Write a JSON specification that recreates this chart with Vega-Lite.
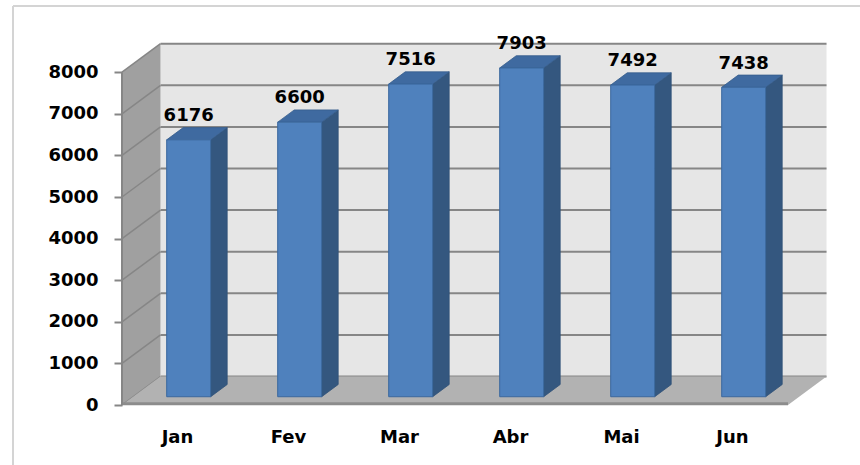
{
  "$schema": "https://vega.github.io/schema/vega-lite/v6.json",
  "width": 860,
  "height": 465,
  "autosize": {"type": "none"},
  "padding": 0,
  "background": "white",
  "config": {
    "view": {"stroke": null},
    "axisY": {
      "title": null, "offset": -122, "domain": false, "grid": false,
      "tickSize": 8, "tickWidth": 2, "tickColor": "#868686",
      "labelFont": "DejaVu Sans", "labelFontWeight": "bold", "labelFontSize": 18,
      "labelColor": "#000000", "labelPadding": 16
    }
  },
  "datasets": {
    "sales": [
      {"m": "Jan", "v": 6176},
      {"m": "Fev", "v": 6600},
      {"m": "Mar", "v": 7516},
      {"m": "Abr", "v": 7903},
      {"m": "Mai", "v": 7492},
      {"m": "Jun", "v": 7438}
    ],
    "ticks": [
      {"k": 0}, {"k": 1000}, {"k": 2000}, {"k": 3000}, {"k": 4000},
      {"k": 5000}, {"k": 6000}, {"k": 7000}, {"k": 8000}
    ],
    "one": [{}]
  },
  "layer": [
    {
      "data": {"name": "one"},
      "transform": [
        {"calculate": "-0.982", "as": "a"},
        {"calculate": "9591", "as": "b"},
        {"calculate": "-1442", "as": "b2"}
      ],
      "mark": {"type": "rule", "stroke": "#d4d4d4", "strokeWidth": 2},
      "encoding": {
        "x": {"field": "a", "type": "quantitative", "scale": {"domain": [-1.0991, 6.6486], "nice": false, "zero": false}, "axis": null},
        "y": {"field": "b", "type": "quantitative", "scale": {"domain": [-1442.3, 9735.6], "nice": false, "zero": false}, "axis": {"title": null, "values": [0, 1000, 2000, 3000, 4000, 5000, 6000, 7000, 8000], "format": "d"}},
        "y2": {"field": "b2"}
      }
    },
    {
      "data": {"name": "one"},
      "transform": [
        {"calculate": "-0.982", "as": "a"},
        {"calculate": "6.6486", "as": "a2"},
        {"calculate": "9591", "as": "b"}
      ],
      "mark": {"type": "rule", "stroke": "#d4d4d4", "strokeWidth": 2},
      "encoding": {
        "x": {"field": "a", "type": "quantitative", "scale": {"domain": [-1.0991, 6.6486], "nice": false, "zero": false}, "axis": null},
        "x2": {"field": "a2"},
        "y": {"field": "b", "type": "quantitative", "scale": {"domain": [-1442.3, 9735.6], "nice": false, "zero": false}, "axis": {"title": null, "values": [0, 1000, 2000, 3000, 4000, 5000, 6000, 7000, 8000], "format": "d"}}
      }
    },
    {
      "data": {"name": "one"},
      "transform": [
        {"calculate": "0.347", "as": "a"},
        {"calculate": "6.347", "as": "a2"},
        {"calculate": "685", "as": "b"},
        {"calculate": "8685", "as": "b2"}
      ],
      "mark": {"type": "rect", "fill": "#e6e6e6"},
      "encoding": {
        "x": {"field": "a", "type": "quantitative", "scale": {"domain": [-1.0991, 6.6486], "nice": false, "zero": false}, "axis": null},
        "x2": {"field": "a2"},
        "y": {"field": "b", "type": "quantitative", "scale": {"domain": [-1442.3, 9735.6], "nice": false, "zero": false}, "axis": {"title": null, "values": [0, 1000, 2000, 3000, 4000, 5000, 6000, 7000, 8000], "format": "d"}},
        "y2": {"field": "b2"}
      }
    },
    {
      "data": {"name": "ticks"},
      "transform": [
        {"calculate": "datum.k + 685", "as": "gy"},
        {"calculate": "0.347", "as": "a"},
        {"calculate": "6.347", "as": "a2"}
      ],
      "mark": {"type": "rule", "stroke": "#868686", "strokeWidth": 2},
      "encoding": {
        "x": {"field": "a", "type": "quantitative", "scale": {"domain": [-1.0991, 6.6486], "nice": false, "zero": false}, "axis": null},
        "x2": {"field": "a2"},
        "y": {"field": "gy", "type": "quantitative", "scale": {"domain": [-1442.3, 9735.6], "nice": false, "zero": false}, "axis": {"title": null, "values": [0, 1000, 2000, 3000, 4000, 5000, 6000, 7000, 8000], "format": "d"}}
      }
    },
    {
      "data": {"name": "one"},
      "transform": [
        {"calculate": "[0, 1]", "as": "t"},
        {"flatten": ["t"]},
        {"calculate": "datum.t * 0.347", "as": "lx"},
        {"calculate": "datum.t * 685", "as": "ly"},
        {"calculate": "8000 + datum.t * 685", "as": "ly2"}
      ],
      "mark": {"type": "area", "orient": "vertical", "fill": "#a0a0a0"},
      "encoding": {
        "x": {"field": "lx", "type": "quantitative", "scale": {"domain": [-1.0991, 6.6486], "nice": false, "zero": false}, "axis": null},
        "y": {"field": "ly", "type": "quantitative", "scale": {"domain": [-1442.3, 9735.6], "nice": false, "zero": false}, "axis": {"title": null, "values": [0, 1000, 2000, 3000, 4000, 5000, 6000, 7000, 8000], "format": "d"}},
        "y2": {"field": "ly2"}
      }
    },
    {
      "data": {"name": "ticks"},
      "transform": [
        {"calculate": "[0, 1]", "as": "t"},
        {"flatten": ["t"]},
        {"calculate": "datum.t * 0.347", "as": "lx"},
        {"calculate": "datum.k + datum.t * 685", "as": "ly"}
      ],
      "mark": {"type": "line", "stroke": "#868686", "strokeWidth": 1.5},
      "encoding": {
        "x": {"field": "lx", "type": "quantitative", "scale": {"domain": [-1.0991, 6.6486], "nice": false, "zero": false}, "axis": null},
        "y": {"field": "ly", "type": "quantitative", "scale": {"domain": [-1442.3, 9735.6], "nice": false, "zero": false}, "axis": {"title": null, "values": [0, 1000, 2000, 3000, 4000, 5000, 6000, 7000, 8000], "format": "d"}},
        "detail": {"field": "k", "type": "nominal"}
      }
    },
    {
      "data": {"name": "one"},
      "transform": [
        {"calculate": "[0, 1]", "as": "t"},
        {"flatten": ["t"]},
        {"calculate": "datum.t * 0.347", "as": "fx"},
        {"calculate": "6 + datum.t * 0.347", "as": "fx2"},
        {"calculate": "datum.t * 685", "as": "fy"}
      ],
      "mark": {"type": "area", "orient": "horizontal", "fill": "#b2b2b2"},
      "encoding": {
        "x": {"field": "fx", "type": "quantitative", "scale": {"domain": [-1.0991, 6.6486], "nice": false, "zero": false}, "axis": null},
        "x2": {"field": "fx2"},
        "y": {"field": "fy", "type": "quantitative", "scale": {"domain": [-1442.3, 9735.6], "nice": false, "zero": false}, "axis": {"title": null, "values": [0, 1000, 2000, 3000, 4000, 5000, 6000, 7000, 8000], "format": "d"}}
      }
    },
    {
      "data": {"name": "one"},
      "transform": [
        {"calculate": "0", "as": "a"},
        {"calculate": "6", "as": "a2"},
        {"calculate": "30", "as": "b"}
      ],
      "mark": {"type": "rule", "stroke": "#8c8c8c", "strokeWidth": 3},
      "encoding": {
        "x": {"field": "a", "type": "quantitative", "scale": {"domain": [-1.0991, 6.6486], "nice": false, "zero": false}, "axis": null},
        "x2": {"field": "a2"},
        "y": {"field": "b", "type": "quantitative", "scale": {"domain": [-1442.3, 9735.6], "nice": false, "zero": false}, "axis": {"title": null, "values": [0, 1000, 2000, 3000, 4000, 5000, 6000, 7000, 8000], "format": "d"}}
      }
    },
    {
      "data": {"name": "one"},
      "transform": [
        {"calculate": "0", "as": "a"},
        {"calculate": "0", "as": "b"},
        {"calculate": "8000", "as": "b2"}
      ],
      "mark": {"type": "rule", "stroke": "#868686", "strokeWidth": 2},
      "encoding": {
        "x": {"field": "a", "type": "quantitative", "scale": {"domain": [-1.0991, 6.6486], "nice": false, "zero": false}, "axis": null},
        "y": {"field": "b", "type": "quantitative", "scale": {"domain": [-1442.3, 9735.6], "nice": false, "zero": false}, "axis": {"title": null, "values": [0, 1000, 2000, 3000, 4000, 5000, 6000, 7000, 8000], "format": "d"}},
        "y2": {"field": "b2"}
      }
    },
    {
      "data": {"name": "sales"},
      "transform": [
        {"window": [{"op": "row_number", "as": "n"}]},
        {"calculate": "datum.n - 0.5", "as": "c"},
        {"calculate": "[0, 1]", "as": "t"},
        {"flatten": ["t"]},
        {"calculate": "datum.c + 0.2986 + datum.t * 0.149", "as": "sx"},
        {"calculate": "198.6 + datum.t * 294.5", "as": "sy"},
        {"calculate": "datum.v + 198.6 + datum.t * 294.5", "as": "sy2"}
      ],
      "mark": {"type": "area", "orient": "vertical", "fill": "#34577f", "stroke": "#2f5077", "strokeWidth": 0.8},
      "encoding": {
        "x": {"field": "sx", "type": "quantitative", "scale": {"domain": [-1.0991, 6.6486], "nice": false, "zero": false}, "axis": null},
        "y": {"field": "sy", "type": "quantitative", "scale": {"domain": [-1442.3, 9735.6], "nice": false, "zero": false}, "axis": {"title": null, "values": [0, 1000, 2000, 3000, 4000, 5000, 6000, 7000, 8000], "format": "d"}},
        "y2": {"field": "sy2"},
        "detail": {"field": "m", "type": "nominal"}
      }
    },
    {
      "data": {"name": "sales"},
      "transform": [
        {"window": [{"op": "row_number", "as": "n"}]},
        {"calculate": "datum.n - 0.5", "as": "c"},
        {"calculate": "[0, 1]", "as": "t"},
        {"flatten": ["t"]},
        {"calculate": "datum.c - 0.0974 + datum.t * 0.149", "as": "tx"},
        {"calculate": "datum.c + 0.2986 + datum.t * 0.149", "as": "tx2"},
        {"calculate": "datum.v + 198.6 + datum.t * 294.5", "as": "ty"}
      ],
      "mark": {"type": "area", "orient": "horizontal", "fill": "#3f6aa0", "stroke": "#365d8c", "strokeWidth": 0.8},
      "encoding": {
        "x": {"field": "tx", "type": "quantitative", "scale": {"domain": [-1.0991, 6.6486], "nice": false, "zero": false}, "axis": null},
        "x2": {"field": "tx2"},
        "y": {"field": "ty", "type": "quantitative", "scale": {"domain": [-1442.3, 9735.6], "nice": false, "zero": false}, "axis": {"title": null, "values": [0, 1000, 2000, 3000, 4000, 5000, 6000, 7000, 8000], "format": "d"}},
        "detail": {"field": "m", "type": "nominal"}
      }
    },
    {
      "data": {"name": "sales"},
      "transform": [
        {"window": [{"op": "row_number", "as": "n"}]},
        {"calculate": "datum.n - 0.5", "as": "c"},
        {"calculate": "datum.c + 0.1006 - 0.198", "as": "bx"},
        {"calculate": "datum.c + 0.1006 + 0.198", "as": "bx2"},
        {"calculate": "198.6", "as": "by"},
        {"calculate": "datum.v + 198.6", "as": "by2"}
      ],
      "mark": {"type": "rect", "fill": "#4f81bd", "stroke": "#3b689e", "strokeWidth": 1},
      "encoding": {
        "x": {"field": "bx", "type": "quantitative", "scale": {"domain": [-1.0991, 6.6486], "nice": false, "zero": false}, "axis": null},
        "x2": {"field": "bx2"},
        "y": {"field": "by", "type": "quantitative", "scale": {"domain": [-1442.3, 9735.6], "nice": false, "zero": false}, "axis": {"title": null, "values": [0, 1000, 2000, 3000, 4000, 5000, 6000, 7000, 8000], "format": "d"}},
        "y2": {"field": "by2"}
      }
    },
    {
      "data": {"name": "sales"},
      "transform": [
        {"window": [{"op": "row_number", "as": "n"}]},
        {"calculate": "datum.n - 0.5 + 0.1006", "as": "lx"},
        {"calculate": "datum.v + 493.1", "as": "ly"}
      ],
      "mark": {"type": "text", "font": "DejaVu Sans", "fontWeight": "bold", "fontSize": 18, "color": "#000000", "baseline": "alphabetic", "align": "center", "dy": -6.5},
      "encoding": {
        "x": {"field": "lx", "type": "quantitative", "scale": {"domain": [-1.0991, 6.6486], "nice": false, "zero": false}, "axis": null},
        "y": {"field": "ly", "type": "quantitative", "scale": {"domain": [-1442.3, 9735.6], "nice": false, "zero": false}, "axis": {"title": null, "values": [0, 1000, 2000, 3000, 4000, 5000, 6000, 7000, 8000], "format": "d"}},
        "text": {"field": "v", "type": "quantitative", "format": "d"}
      }
    },
    {
      "data": {"name": "sales"},
      "transform": [
        {"window": [{"op": "row_number", "as": "n"}]},
        {"calculate": "datum.n - 0.5", "as": "c"},
        {"calculate": "0", "as": "y0"}
      ],
      "mark": {"type": "text", "font": "DejaVu Sans", "fontWeight": "bold", "fontSize": 18, "color": "#000000", "baseline": "alphabetic", "align": "center", "dy": 38},
      "encoding": {
        "x": {"field": "c", "type": "quantitative", "scale": {"domain": [-1.0991, 6.6486], "nice": false, "zero": false}, "axis": null},
        "y": {"field": "y0", "type": "quantitative", "scale": {"domain": [-1442.3, 9735.6], "nice": false, "zero": false}, "axis": {"title": null, "values": [0, 1000, 2000, 3000, 4000, 5000, 6000, 7000, 8000], "format": "d"}},
        "text": {"field": "m", "type": "nominal"}
      }
    }
  ]
}
